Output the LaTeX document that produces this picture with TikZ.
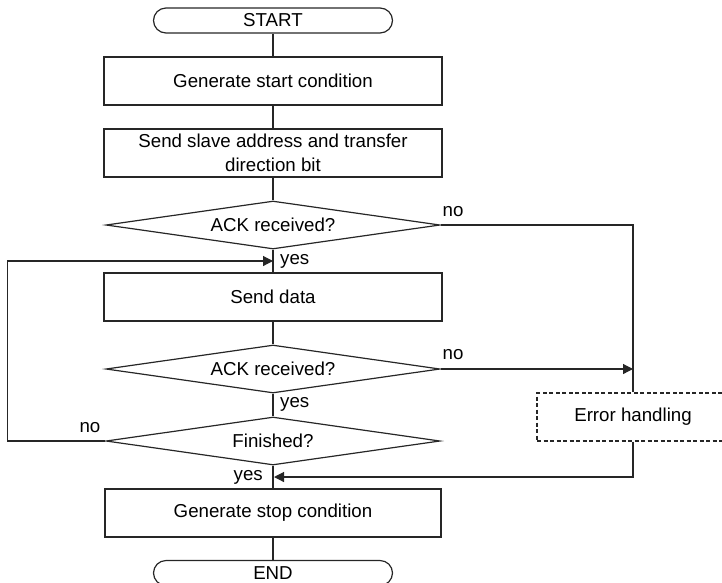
\documentclass[tikz,border=0pt]{standalone}
\usepackage{fontspec}
\setmainfont{Liberation Sans}
\usetikzlibrary{shapes.geometric,arrows.meta}
\begin{document}
\begin{tikzpicture}[x=1pt,y=-1pt,
  every node/.style={font=\fontsize{18.7}{24.5}\selectfont, text=black},
  line/.style={draw=black!85, line width=1.2pt},
  arr/.style={line, -{Triangle[length=10pt,width=10pt]}},
  procbox/.style={line, rectangle, minimum width=338pt, minimum height=48pt, inner sep=0pt, align=center},
  termbox/.style={line, rectangle, rounded corners=12.5pt, minimum width=239pt, minimum height=25pt, inner sep=0pt},
  decide/.style={line, diamond, aspect=7, minimum width=334pt, minimum height=48pt, inner sep=0pt},
  errbox/.style={line, dash pattern=on 4pt off 2.5pt, rectangle, minimum width=192pt, minimum height=48pt, inner sep=0pt},
  lbl/.style={inner sep=0pt}
]
\useasboundingbox (0,0) rectangle (722,582);
\node[termbox] (start) at (273,20.5) {START};
\node[procbox] (b1) at (273,81) {Generate start condition};
\node[procbox] (b2) at (273,153) {Send slave address and transfer\\direction bit};
\node[decide] (d1) at (273,225) {ACK received?};
\node[procbox] (b3) at (273,297) {Send data};
\node[decide] (d2) at (273,369) {ACK received?};
\node[decide] (d3) at (273,441) {Finished?};
\node[procbox, minimum width=336pt] (b4) at (273,513) {Generate stop condition};
\node[termbox] (fin) at (273,573) {END};
\node[errbox] (err) at (633,417) {Error handling};

\coordinate (y1) at (273,261);
\coordinate (j2) at (633,369);
\coordinate (y3) at (274,477);

\draw[line] (start) -- (b1);
\draw[line] (b1) -- (b2);
\draw[line] (b2) -- (d1);
\draw[line] (d1) -- (b3);
\draw[line] (b3) -- (d2);
\draw[line] (d2) -- (d3);
\draw[line] (d3) -- (b4);
\draw[line] (b4) -- (fin);
\draw[line] (d1.east) -| (err.north);
\draw[arr] (d2.east) -- (j2);
\draw[arr] (d3.west) -- ++(-98,0) |- (y1);
\draw[arr] (err.south) |- (y3);

\node[lbl, anchor=west] at (280,261) {yes};
\node[lbl, anchor=west] at (280,404) {yes};
\node[lbl, anchor=east] at (263,477) {yes};
\node[lbl] at (453,212) {no};
\node[lbl] at (453,355) {no};
\node[lbl] at (90,428) {no};
\end{tikzpicture}
\end{document}
